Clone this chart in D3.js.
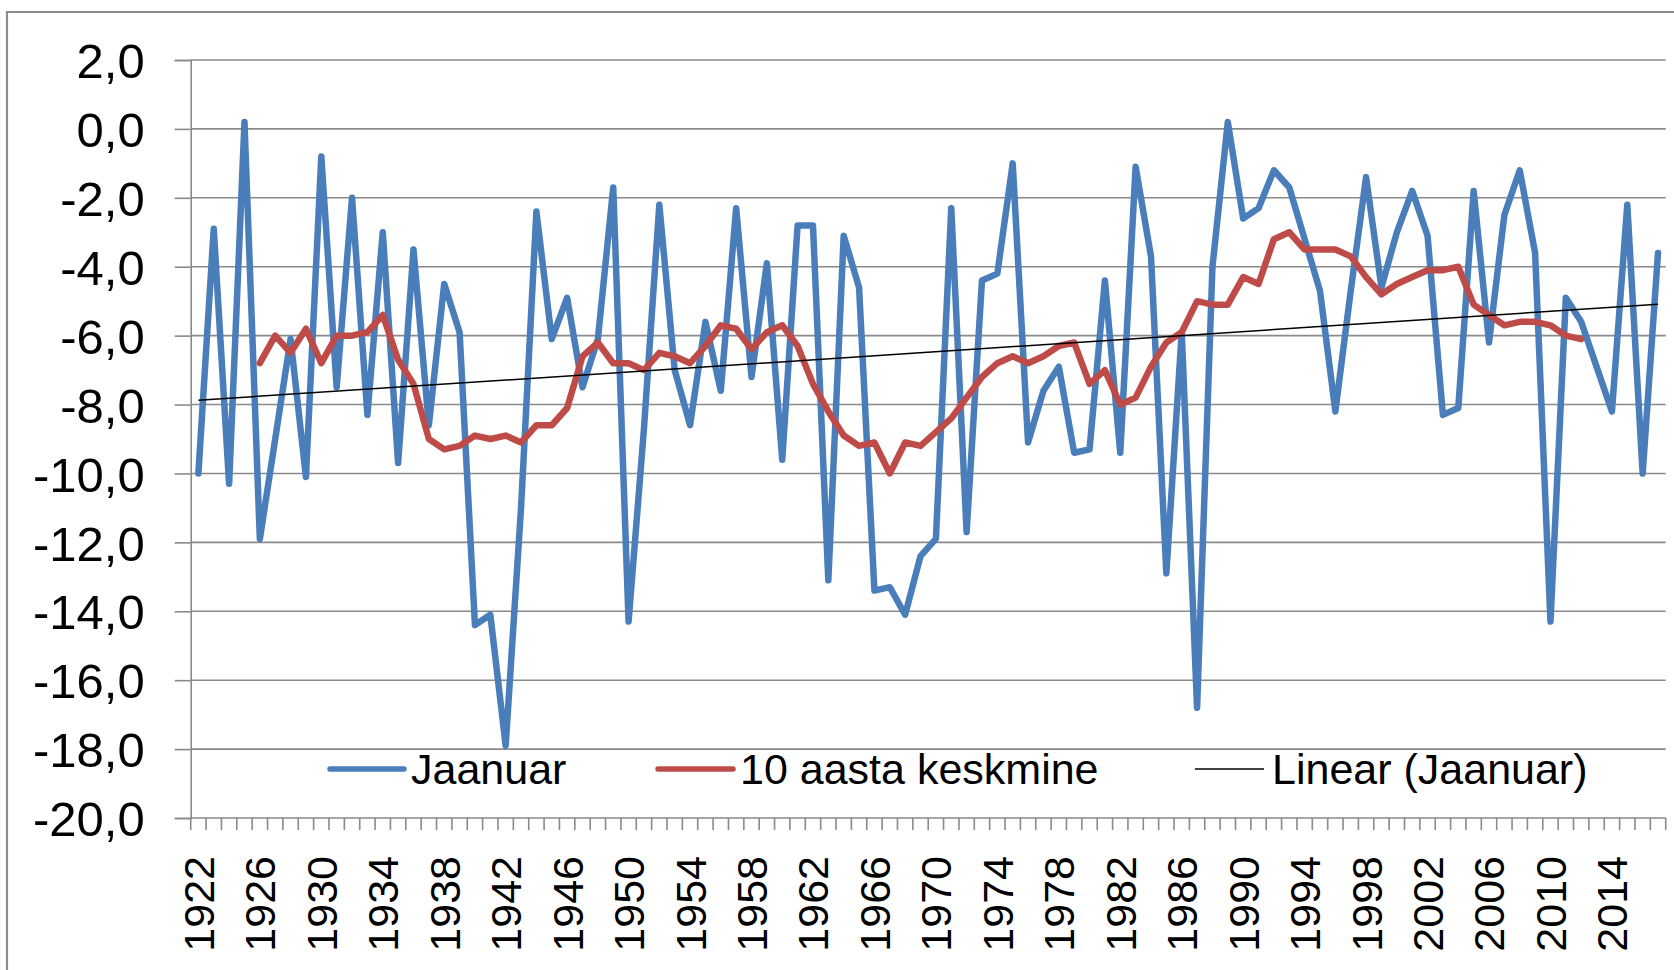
<!DOCTYPE html>
<html>
<head>
<meta charset="utf-8">
<script src="https://cdn.jsdelivr.net/npm/d3@7/dist/d3.min.js"></script>
<style>
  html, body { margin: 0; padding: 0; background: #fff; }
  svg { display: block; font-family: "Liberation Sans", Arial, sans-serif; }
</style>
</head>
<body>
<svg id="chart" width="1674" height="970"></svg>
<script>
// ---- data ----
const years = d3.range(1922, 2018).map(String);
const jaanuar = [
  -10.0, -2.9, -10.3, 0.2, -11.9, -9.0, -6.1, -10.1, -0.8, -7.5,
  -2.0, -8.3, -3.0, -9.7, -3.5, -8.6, -4.5, -5.9, -14.4, -14.1,
  -17.9, -11.0, -2.4, -6.1, -4.9, -7.5, -6.1, -1.7, -14.3, -8.7,
  -2.2, -7.0, -8.6, -5.6, -7.6, -2.3, -7.2, -3.9, -9.6, -2.8,
  -2.8, -13.1, -3.1, -4.6, -13.4, -13.3, -14.1, -12.4, -11.9, -2.3,
  -11.7, -4.4, -4.2, -1.0, -9.1, -7.6, -6.9, -9.4, -9.3, -4.4,
  -9.4, -1.1, -3.7, -12.9, -5.9, -16.8, -4.0, 0.2, -2.6, -2.3,
  -1.2, -1.7, -3.2, -4.7, -8.2, -4.7, -1.4, -4.6, -3.0, -1.8,
  -3.1, -8.3, -8.1, -1.8, -6.2, -2.5, -1.2, -3.6, -14.3, -4.9,
  -5.6, -6.9, -8.2, -2.2, -10.0, -3.6
];
const avgYears = d3.range(1926, 2013).map(String);
const keskmine10 = [
  -6.8, -6.0, -6.5, -5.8, -6.8, -6.0, -6.0, -5.9, -5.4, -6.7,
  -7.4, -9.0, -9.3, -9.2, -8.9, -9.0, -8.9, -9.1, -8.6, -8.6,
  -8.1, -6.6, -6.2, -6.8, -6.8, -7.0, -6.5, -6.6, -6.8, -6.3,
  -5.7, -5.8, -6.4, -5.9, -5.7, -6.3, -7.4, -8.2, -8.9, -9.2,
  -9.1, -10.0, -9.1, -9.2, -8.8, -8.4, -7.8, -7.2, -6.8, -6.6,
  -6.8, -6.6, -6.3, -6.2, -7.4, -7.0, -8.0, -7.8, -6.9, -6.2,
  -5.9, -5.0, -5.1, -5.1, -4.3, -4.5, -3.2, -3.0, -3.5, -3.5,
  -3.5, -3.7, -4.3, -4.8, -4.5, -4.3, -4.1, -4.1, -4.0, -5.1,
  -5.4, -5.7, -5.6, -5.6, -5.7, -6.0, -6.1
];
const yTicks = [2, 0, -2, -4, -6, -8, -10, -12, -14, -16, -18, -20];
const xLabelYears = years.filter((d, i) => i % 4 === 0);
const legendLabels = ["Jaanuar", "10 aasta keskmine", "Linear (Jaanuar)"];

// ---- layout ----
const svg = d3.select("#chart");
const L = 190.7, R = 1665.7, T = 60, B = 818;
const gridColor = "#8a8a8a";
const blue = "#4a7ebb", red = "#be4b48";

// outer frame
svg.append("path")
  .attr("d", "M7,975 L7,12 L1680,12")
  .attr("fill", "none").attr("stroke", "#8c8c8c").attr("stroke-width", 2.2);

const x = d3.scaleBand().domain(years).range([L, R]).paddingInner(0).paddingOuter(0);
const y = d3.scaleLinear().domain([-20, 2]).range([B, T]);
const cx = d => x(d) + x.bandwidth() / 2;

const loc = d3.formatLocale({decimal: ",", thousands: " ", grouping: [3], currency: ["", ""], minus: "-"});
const fmt = loc.format(".1f");

// gridlines
svg.append("g").selectAll("line").data(yTicks.filter(v => v !== -20)).join("line")
  .attr("x1", L).attr("x2", R)
  .attr("y1", d => y(d)).attr("y2", d => y(d))
  .attr("stroke", gridColor).attr("stroke-width", 1.6);

// y axis
const yAxis = svg.append("g").attr("transform", `translate(${L},0)`)
  .call(d3.axisLeft(y).tickValues(yTicks).tickFormat(fmt).tickSize(16).tickPadding(30));
yAxis.select(".domain").attr("stroke", gridColor).attr("stroke-width", 1.6);
yAxis.selectAll(".tick line").attr("stroke", gridColor).attr("stroke-width", 1.6);
yAxis.selectAll("text").attr("font-size", 49).attr("fill", "#000")
  .attr("font-family", "Liberation Sans, Arial, sans-serif").attr("dy", "0.36em");

// x axis line and boundary ticks
svg.append("line").attr("x1", L).attr("x2", R).attr("y1", B).attr("y2", B)
  .attr("stroke", gridColor).attr("stroke-width", 1.6);
const bounds = years.map(d => x(d)).concat([R]);
svg.append("g").selectAll("line").data(bounds).join("line")
  .attr("x1", d => d).attr("x2", d => d).attr("y1", B).attr("y2", B + 12)
  .attr("stroke", gridColor).attr("stroke-width", 1.6);

// x labels
const xAxis = svg.append("g").attr("transform", `translate(0,${B})`)
  .call(d3.axisBottom(x).tickValues(xLabelYears).tickSize(0));
xAxis.select(".domain").remove();
xAxis.selectAll("text")
  .attr("font-size", 43).attr("fill", "#000")
  .attr("font-family", "Liberation Sans, Arial, sans-serif")
  .attr("transform", "rotate(-90)")
  .attr("text-anchor", "end")
  .attr("x", -38).attr("y", 0).attr("dy", "0.36em");

// lines
const line = d3.line().x(d => cx(d[0])).y(d => y(d[1]));
svg.append("path").datum(years.map((d, i) => [d, jaanuar[i]]))
  .attr("d", line).attr("fill", "none").attr("stroke", blue)
  .attr("stroke-width", 6.5).attr("stroke-linejoin", "round").attr("stroke-linecap", "round");
svg.append("path").datum(avgYears.map((d, i) => [d, keskmine10[i]]))
  .attr("d", line).attr("fill", "none").attr("stroke", red)
  .attr("stroke-width", 6.5).attr("stroke-linejoin", "round").attr("stroke-linecap", "round");

// linear trend (least squares on Jaanuar)
const n = jaanuar.length;
const xs = d3.range(n);
const mx = d3.mean(xs), my = d3.mean(jaanuar);
const slope = d3.sum(xs, i => (i - mx) * (jaanuar[i] - my)) / d3.sum(xs, i => (i - mx) ** 2);
const icpt = my - slope * mx;
svg.append("path").datum([[years[0], icpt], [years[n - 1], icpt + slope * (n - 1)]])
  .attr("d", line).attr("fill", "none").attr("stroke", "#000").attr("stroke-width", 1.5);

// legend
const lg = svg.append("g");
const legY = 769;
const items = [
  {label: legendLabels[0], x1: 330, x2: 404, tx: 411, color: blue, w: 5.5},
  {label: legendLabels[1], x1: 658, x2: 733, tx: 740, color: red, w: 5.5},
  {label: legendLabels[2], x1: 1195, x2: 1264, tx: 1272, color: "#000", w: 1.5}
];
items.forEach(it => {
  lg.append("line").attr("x1", it.x1).attr("x2", it.x2).attr("y1", legY).attr("y2", legY)
    .attr("stroke", it.color).attr("stroke-width", it.w).attr("stroke-linecap", it.w > 2 ? "round" : "butt");
  lg.append("text").attr("x", it.tx).attr("y", legY).attr("dy", "0.36em")
    .attr("font-size", 43).attr("fill", "#000").text(it.label);
});
</script>
</body>
</html>
